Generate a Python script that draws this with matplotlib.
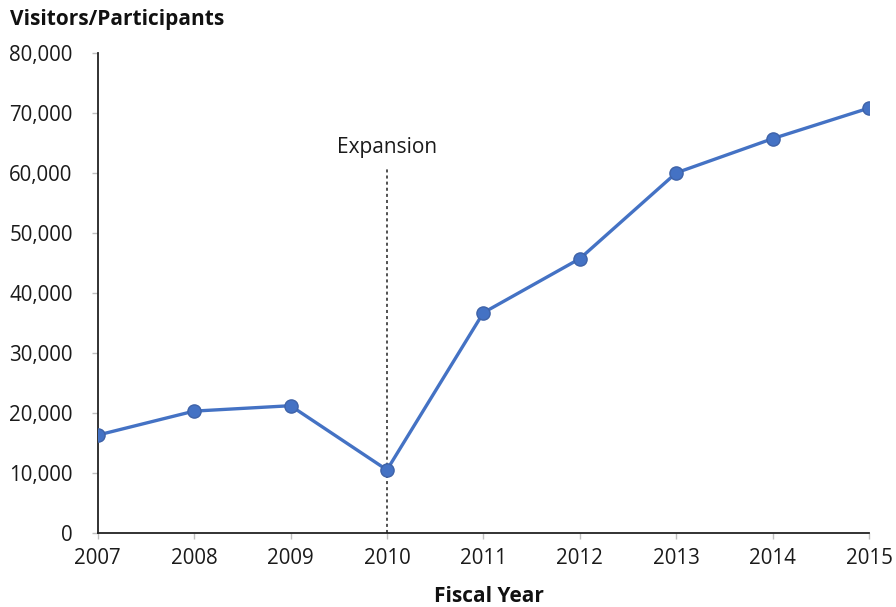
import matplotlib
matplotlib.use("Agg")
import matplotlib.pyplot as plt
from matplotlib.ticker import FuncFormatter

years = [2007, 2008, 2009, 2010, 2011, 2012, 2013, 2014, 2015]
visitors = [16300, 20300, 21200, 10500, 36700, 45700, 60000, 65700, 70800]
expansion_year = 2010
expansion_top = 61000
expansion_label = "Expansion"

plt.rcParams['font.family'] = ['Open Sans', 'DejaVu Sans']

fig = plt.figure(figsize=(8.96, 6.07), dpi=100)
ax = fig.add_axes([0.109, 0.122, 0.861, 0.791])

ax.plot(years, visitors, color='#4472C4', linewidth=2.4, marker='o',
        markersize=9.5, markerfacecolor='#4472C4', markeredgecolor='#3f63a8',
        markeredgewidth=1.0, zorder=3)
ax.vlines(expansion_year, 0, expansion_top, colors='#222222', linestyles=(0, (2, 2)),
          linewidth=1.1, zorder=2)
ax.text(expansion_year, expansion_top + 1500, expansion_label, ha='center', va='bottom',
        fontsize=15, color='#1a1a1a')

ax.set_xlim(2007, 2015)
ax.set_ylim(0, 80000)
ax.set_xticks(years)
ax.set_yticks(range(0, 80001, 10000))
ax.yaxis.set_major_formatter(FuncFormatter(lambda v, p: f"{int(v):,}"))
ax.tick_params(axis='both', labelsize=14.8, colors='#bfbfbf', labelcolor='#1a1a1a',
               length=4, width=1)
ax.tick_params(axis='x', pad=7)
ax.tick_params(axis='y', pad=14)
for s in ['top', 'right']:
    ax.spines[s].set_visible(False)
for s in ['left', 'bottom']:
    ax.spines[s].set_color('#222222')
    ax.spines[s].set_linewidth(1.3)
for lab in ax.get_xticklabels():
    lab.set_clip_on(False)

fig.text(0.011, 0.950, "Visitors/Participants", fontsize=15, fontweight='bold',
         color='#111111', ha='left', va='bottom')
fig.text(0.546, 0.0, "Fiscal Year", fontsize=15, fontweight='bold',
         color='#111111', ha='center', va='bottom')

fig.savefig("out.png", dpi=100)
